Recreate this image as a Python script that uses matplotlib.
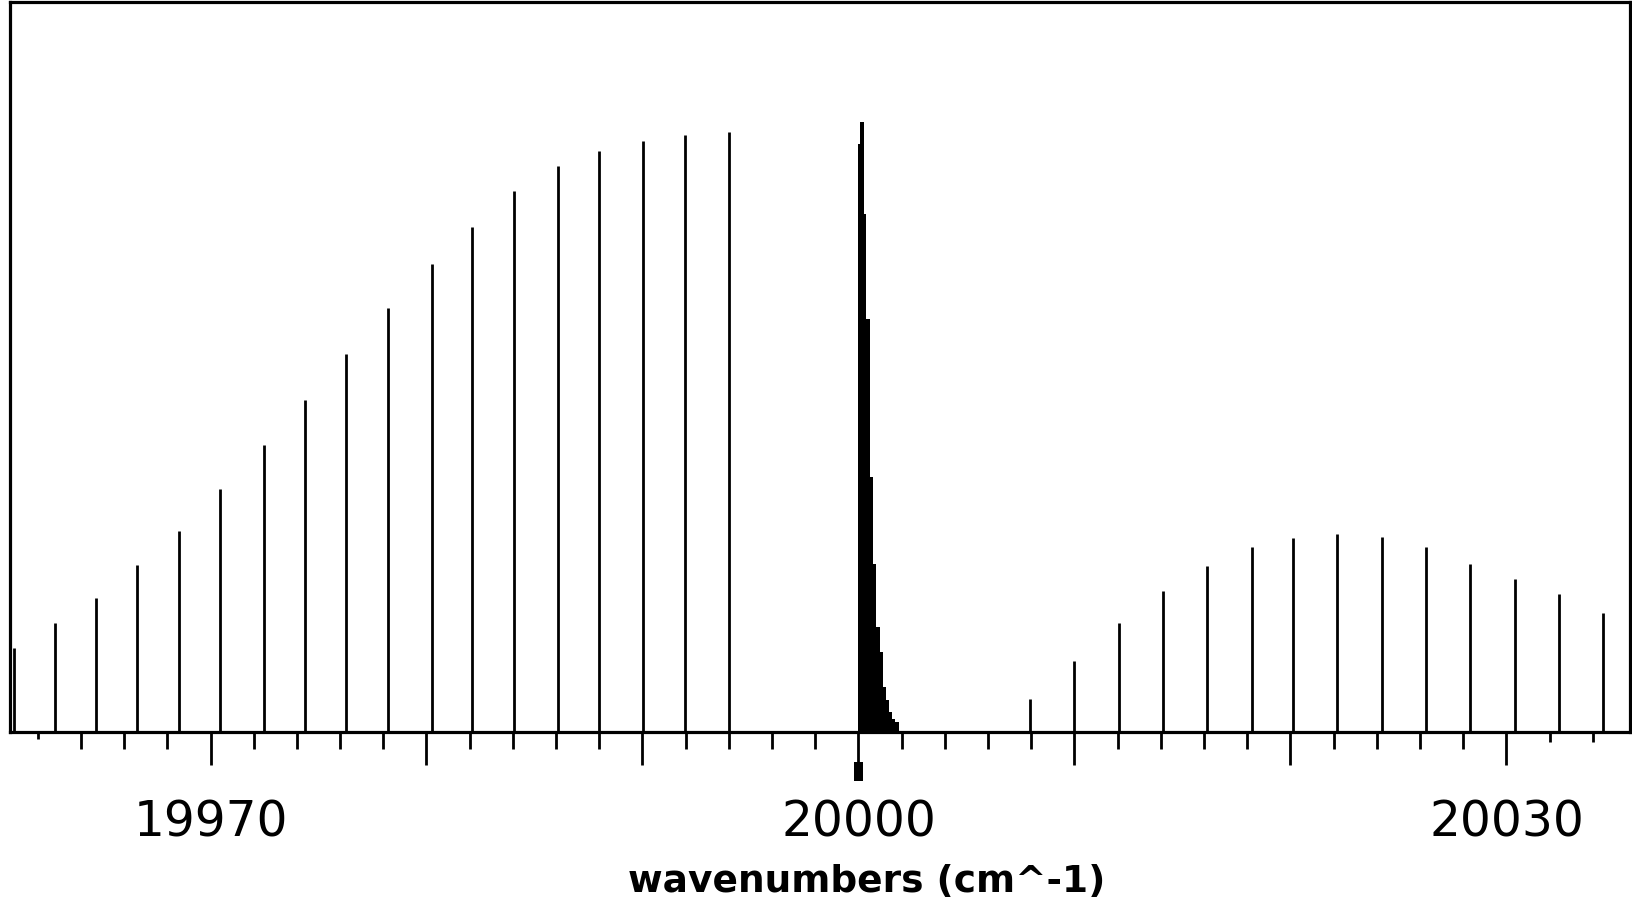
import matplotlib
matplotlib.use("Agg")
import matplotlib.pyplot as plt
import matplotlib.transforms as mtransforms
from matplotlib.patches import Rectangle

# P-branch lines (wavenumber, relative intensity)
p_pos = [19960.91, 19962.78, 19964.69, 19966.59, 19968.53, 19970.43, 19972.46,
         19974.36, 19976.29, 19978.20, 19980.25, 19982.13, 19984.04, 19986.11,
         19988.00, 19990.04, 19991.97, 19994.01]
p_int = [13.8, 17.9, 22.0, 27.3, 32.9, 39.8, 47.1, 54.4, 61.9, 69.5, 76.6, 82.8,
         88.6, 92.7, 95.2, 96.9, 97.8, 98.3]

# Q-branch (dense head near 20000)
q_pos = [20000.044, 20000.160, 20000.291, 20000.446, 20000.599, 20000.754,
         20000.909, 20001.048, 20001.179, 20001.318, 20001.471, 20001.633,
         20001.788]
q_int = [96.4, 100.0, 84.8, 67.6, 41.8, 27.5, 17.2, 13.1, 7.3, 5.3, 3.2, 2.1, 1.6]

# R-branch lines
r_pos = [20007.95, 20009.99, 20012.05, 20014.11, 20016.15, 20018.23, 20020.13,
         20022.17, 20024.22, 20026.27, 20028.32, 20030.39, 20032.44, 20034.48]
r_int = [5.4, 11.6, 17.8, 23.1, 27.2, 30.3, 31.8, 32.4, 31.9, 30.3, 27.6, 25.0,
         22.6, 19.5]

major_ticks = [19970, 19980, 19990, 20000, 20010, 20020, 20030]
major_labels = ["19970", "", "", "20000", "", "", "20030"]
minor_ticks = [19964, 19966, 19968, 19972, 19974, 19976, 19978, 19982, 19984,
               19986, 19988, 19992, 19994, 19996, 19998, 20002, 20004, 20006,
               20008, 20012, 20014, 20016, 20018, 20022, 20024, 20026, 20028]
edge_ticks_right = [20032, 20034]
edge_ticks_left = [19962]
origin = 20000

fig = plt.figure(figsize=(16.32, 9.07), dpi=100)
ax = fig.add_axes([0.00643, 0.19295, 0.99234, 0.80485])

ax.vlines(p_pos, 0, p_int, color="black", lw=2.0)
ax.vlines(r_pos, 0, r_int, color="black", lw=2.0)
ax.bar(q_pos, q_int, width=0.16, color="black", linewidth=0)

ax.set_xlim(19960.74, 20035.72)
ax.set_ylim(0, 119.6)
ax.set_yticks([])

ax.set_xticks(major_ticks)
ax.set_xticklabels(major_labels)
ax.set_xticks(minor_ticks, minor=True)
ax.tick_params(axis="x", which="major", length=23.8, width=2.0, direction="out",
               labelsize=35, pad=24)
ax.tick_params(axis="x", which="minor", length=12.4, width=2.0, direction="out")
for s in ax.spines.values():
    s.set_linewidth(2.3)
    s.set_color("black")

sec1 = ax.secondary_xaxis("bottom")
sec1.set_xticks(edge_ticks_right)
sec1.tick_params(length=7.5, width=2.0, labelbottom=False)
sec1.spines["bottom"].set_visible(False)

sec2 = ax.secondary_xaxis("bottom")
sec2.set_xticks(edge_ticks_left)
sec2.tick_params(length=5, width=2.0, labelbottom=False)
sec2.spines["bottom"].set_visible(False)

trans = mtransforms.blended_transform_factory(ax.transData, ax.transAxes)
ax.add_patch(Rectangle((origin - 0.21, -0.0671), 0.42, 0.026, transform=trans,
                       color="black", clip_on=False, lw=0))

ax.set_xlabel("wavenumbers (cm^-1)", fontsize=27, fontweight="bold")
ax.xaxis.set_label_coords(0.5287, -0.181)

fig.savefig("out.png", dpi=100)
